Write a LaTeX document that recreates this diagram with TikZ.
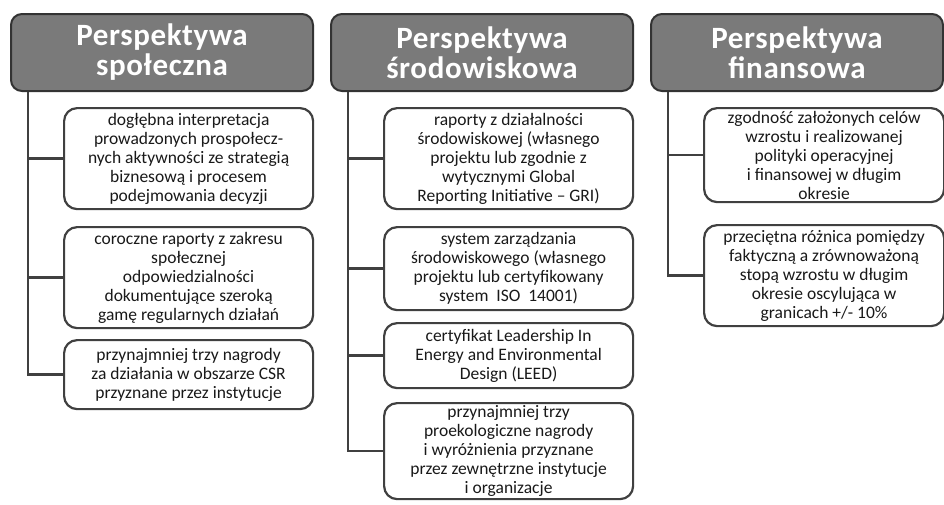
\documentclass[tikz,border=0pt]{standalone}
\usepackage{fontspec}
\setmainfont{Carlito}
\usepackage{tikz}
\definecolor{hdrgray}{HTML}{7A7A7A}
\definecolor{linegray}{HTML}{404040}
\tikzset{
  hdr/.style={draw=linegray!80!black, line width=2pt, fill=hdrgray, rounded corners=11pt,
    anchor=north west, text=white, align=center, inner sep=0pt,
    font=\fontsize{31}{30}\selectfont\bfseries\addfontfeatures{LetterSpace=2}},
  item/.style={draw=linegray, line width=2.2pt, fill=white, rounded corners=13pt,
    anchor=north west, text=black!90, align=center, inner sep=0pt,
    font=\fontsize{17.5}{19}\selectfont},
  conn/.style={draw=linegray, line width=2.6pt}
}
\begin{document}
\begin{tikzpicture}[x=1pt,y=1pt]
        \useasboundingbox (0,0) rectangle (944,-504);
        % naglowki
        \node[hdr, minimum width=302, minimum height=77] (hs) at (10,-13) {Perspektywa\\społeczna};
        \node[hdr, minimum width=302, minimum height=77] (hr) at (330,-13) {Perspektywa\\środowiskowa};
        \node[hdr, minimum width=292, minimum height=77] (hf) at (650,-13) {Perspektywa\\finansowa};
        % spoleczna
        \node[item, minimum width=249, minimum height=101] (s1) at (63,-107) {dogłębna interpretacja\\prowadzonych prospołecz-\\nych aktywności ze strategią\\biznesową i procesem\\podejmowania decyzji};
        \node[item, minimum width=249, minimum height=101] (s2) at (63,-226) {coroczne raporty z zakresu\\społecznej\\odpowiedzialności\\dokumentujące szeroką\\gamę regularnych działań};
        \node[item, minimum width=249, minimum height=69] (s3) at (63,-339) {przynajmniej trzy nagrody\\za działania w obszarze CSR\\przyznane przez instytucje};
        % srodowiskowa
        \node[item, minimum width=249, minimum height=101] (r1) at (383,-107) {raporty z działalności\\środowiskowej (własnego\\projektu lub zgodnie z\\wytycznymi Global\\Reporting Initiative – GRI)};
        \node[item, minimum width=249, minimum height=83] (r2) at (383,-226) {system zarządzania\\środowiskowego (własnego\\projektu lub certyfikowany\\system\ \ ISO\ \ 14001)};
        \node[item, minimum width=249, minimum height=65] (r3) at (383,-322) {certyfikat Leadership In\\Energy and Environmental\\Design (LEED)};
        \node[item, minimum width=249, minimum height=96] (r4) at (383,-402) {przynajmniej trzy\\proekologiczne nagrody\\i wyróżnienia przyznane\\przez zewnętrzne instytucje\\i organizacje};
        % finansowa
        \node[item, minimum width=240, minimum height=94] (f1) at (703,-107) {zgodność założonych celów\\wzrostu i realizowanej\\polityki operacyjnej\\i finansowej w długim\\okresie};
        \node[item, minimum width=240, minimum height=101] (f2) at (703,-224) {przeciętna różnica pomiędzy\\faktyczną a zrównoważoną\\stopą wzrostu w długim\\okresie oscylująca w\\granicach +/- 10\%};
        % polaczenia
        \foreach \h/\c in {hs/s1,hs/s2,hs/s3,hr/r1,hr/r2,hr/r3,hr/r4,hf/f1,hf/f2}
          \draw[conn] ([xshift=18pt]\h.south west) |- (\c.west);
\end{tikzpicture}
\end{document}
